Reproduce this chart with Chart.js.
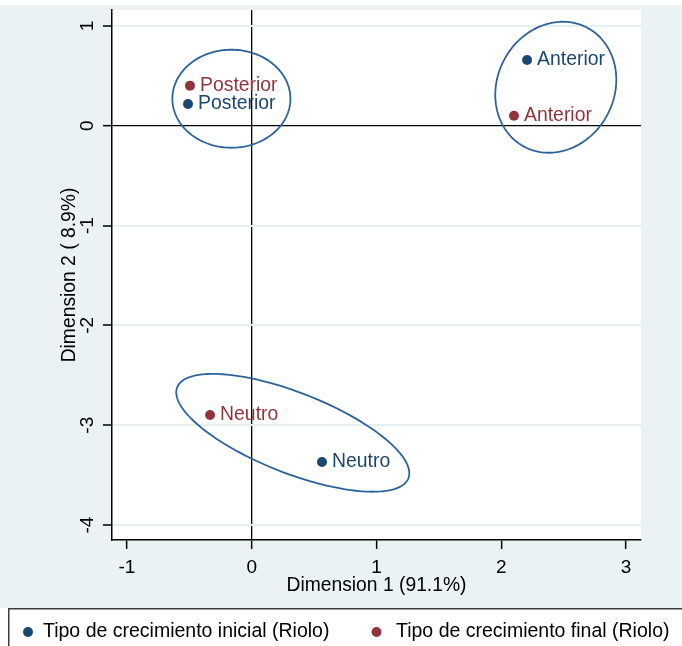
<!DOCTYPE html>
<html><head><meta charset="utf-8">
<script src="https://cdn.jsdelivr.net/npm/chart.js@4.4.0/dist/chart.umd.min.js"></script>
<style>html,body{margin:0;padding:0;background:#fff;} #wrap{width:682px;height:646px;}</style>
</head><body><div id="wrap"><canvas id="c" width="682" height="646"></canvas></div>
<script>
// ---- data ----
const categories = ['Anterior', 'Posterior', 'Neutro'];
const seriesNames = ['Tipo de crecimiento inicial (Riolo)', 'Tipo de crecimiento final (Riolo)'];
const initialX = [2.207, -0.511, 0.563];
const initialY = [0.659, 0.218, -3.368];
const finalX = [2.102, -0.495, -0.334];
const finalY = [0.101, 0.402, -2.898];
const xTicks = [-1, 0, 1, 2, 3];
const yTicks = [-4, -3, -2, -1, 0, 1];
const xTitle = 'Dimension 1 (91.1%)';
const yTitle = 'Dimension 2 ( 8.9%)';
// group ellipses in data units: centre and two conjugate half-axis vectors
const groupCentres = [[2.437, 0.386], [-0.163, 0.271], [0.329, -3.076]];
const groupAxisU = [[0.251, 0.597], [0.473, 0], [0.9265, -0.456]];
const groupAxisV = [[0.415, -0.2725], [0, 0.491], [-0.118, -0.375]];

// ---- styles ----
const NAVY = '#1a476f', MAROON = '#90353b', BG = '#eaf2f3', GRID = '#e6eff1', ELL = '#2d6399';
const FONT = "'Liberation Sans', Arial, Helvetica, sans-serif";
Chart.defaults.font.family = FONT;
Chart.defaults.font.size = 19;
Chart.defaults.color = '#000';

const toPts = (xs, ys) => xs.map((x, i) => ({x: x, y: ys[i], label: categories[i]}));

const bgPlugin = {
  id: 'bg',
  beforeDraw(chart) {
    const {ctx, chartArea: a} = chart;
    ctx.save();
    ctx.fillStyle = '#fff'; ctx.fillRect(0, 0, chart.width, chart.height);
    ctx.fillStyle = BG; ctx.fillRect(0, 5, chart.width, 603);
    ctx.fillStyle = '#fff'; ctx.fillRect(a.left, a.top, a.right - a.left, a.bottom - a.top);
    ctx.restore();
  }
};

const overlayPlugin = {
  id: 'overlay',
  afterDatasetsDraw(chart) {
    const {ctx} = chart;
    const xs = chart.scales.x, ys = chart.scales.y;
    ctx.save();
    // ellipses
    ctx.strokeStyle = ELL; ctx.lineWidth = 1.8;
    groupCentres.forEach((c, g) => {
      const U = groupAxisU[g], V = groupAxisV[g];
      ctx.beginPath();
      for (let k = 0; k <= 180; k++) {
        const t = k / 180 * Math.PI * 2;
        const dx = c[0] + Math.cos(t) * U[0] + Math.sin(t) * V[0];
        const dy = c[1] + Math.cos(t) * U[1] + Math.sin(t) * V[1];
        const px = xs.getPixelForValue(dx), py = ys.getPixelForValue(dy);
        if (k === 0) ctx.moveTo(px, py); else ctx.lineTo(px, py);
      }
      ctx.closePath(); ctx.stroke();
    });
    // point labels
    ctx.font = '19.4px ' + FONT;
    ctx.textAlign = 'left'; ctx.textBaseline = 'middle';
    chart.data.datasets.forEach((ds, i) => {
      const meta = chart.getDatasetMeta(i);
      ctx.fillStyle = ds.backgroundColor;
      meta.data.forEach((el, j) => {
        ctx.fillText(ds.data[j].label, el.x + 10, el.y);
      });
    });
    ctx.restore();
  },
  afterDraw(chart) {
    const {ctx} = chart;
    const ys = chart.scales.y;
    ctx.save();
    // rotated y tick labels
    ctx.font = '19px ' + FONT; ctx.fillStyle = '#000';
    ctx.textAlign = 'center'; ctx.textBaseline = 'alphabetic';
    yTicks.forEach(v => {
      ctx.save();
      ctx.translate(93, ys.getPixelForValue(v));
      ctx.rotate(-Math.PI / 2);
      ctx.fillText(String(v), 0, 0);
      ctx.restore();
    });
    // legend box
    ctx.fillStyle = '#fff'; ctx.fillRect(8, 608, 700, 50);
    ctx.strokeStyle = '#3c3c3c'; ctx.lineWidth = 1.5;
    ctx.strokeRect(8.75, 608.75, 700, 50);
    ctx.font = '19.5px ' + FONT;
    const markX = [28, 376.5], textX = [43, 396];
    chart.data.datasets.forEach((ds, i) => {
      ctx.fillStyle = ds.backgroundColor;
      ctx.beginPath(); ctx.arc(markX[i], 632, 5, 0, Math.PI * 2); ctx.fill();
      ctx.fillStyle = '#000'; ctx.textAlign = 'left'; ctx.textBaseline = 'alphabetic';
      ctx.fillText(ds.label, textX[i], 637);
    });
    ctx.restore();
  }
};

new Chart(document.getElementById('c'), {
  type: 'scatter',
  data: {
    datasets: [
      {label: seriesNames[0], data: toPts(initialX, initialY), backgroundColor: NAVY, borderWidth: 0, pointRadius: 5, pointHoverRadius: 5},
      {label: seriesNames[1], data: toPts(finalX, finalY), backgroundColor: MAROON, borderWidth: 0, pointRadius: 5, pointHoverRadius: 5}
    ]
  },
  options: {
    responsive: false,
    animation: false,
    events: [],
    layout: {padding: {left: 0, top: 10, right: 41, bottom: 46}},
    plugins: {legend: {display: false}, tooltip: {enabled: false}},
    scales: {
      x: {
        type: 'linear', min: -1.12, max: 3.12,
        afterBuildTicks: s => { s.ticks = xTicks.map(v => ({value: v})); },
        afterFit: s => { s.height = 60; },
        ticks: {padding: 7, color: '#000', callback: v => String(v), font: {size: 19}},
        grid: {
          color: c => (c.tick && c.tick.value === 0) ? '#000' : 'rgba(0,0,0,0)',
          lineWidth: 1.3, tickLength: 9, tickColor: '#000', tickWidth: 1.5
        },
        border: {color: '#000', width: 1.5},
        title: {display: true, text: xTitle, color: '#000', font: {size: 19.3}, padding: {top: 0, bottom: 3}}
      },
      y: {
        type: 'linear', min: -4.15, max: 1.16,
        afterBuildTicks: s => { s.ticks = yTicks.map(v => ({value: v})); },
        afterFit: s => { s.width = 112; },
        ticks: {display: false},
        grid: {
          color: c => (c.tick && c.tick.value === 0) ? '#000' : GRID,
          lineWidth: c => (c.tick && c.tick.value === 0) ? 1.3 : 2,
          tickLength: 9, tickColor: '#000', tickWidth: 1.5
        },
        border: {color: '#000', width: 1.5},
        title: {display: true, text: yTitle, color: '#000', font: {size: 19.3}, padding: {top: 58, bottom: 0}}
      }
    }
  },
  plugins: [bgPlugin, overlayPlugin]
});
</script>
</body></html>
